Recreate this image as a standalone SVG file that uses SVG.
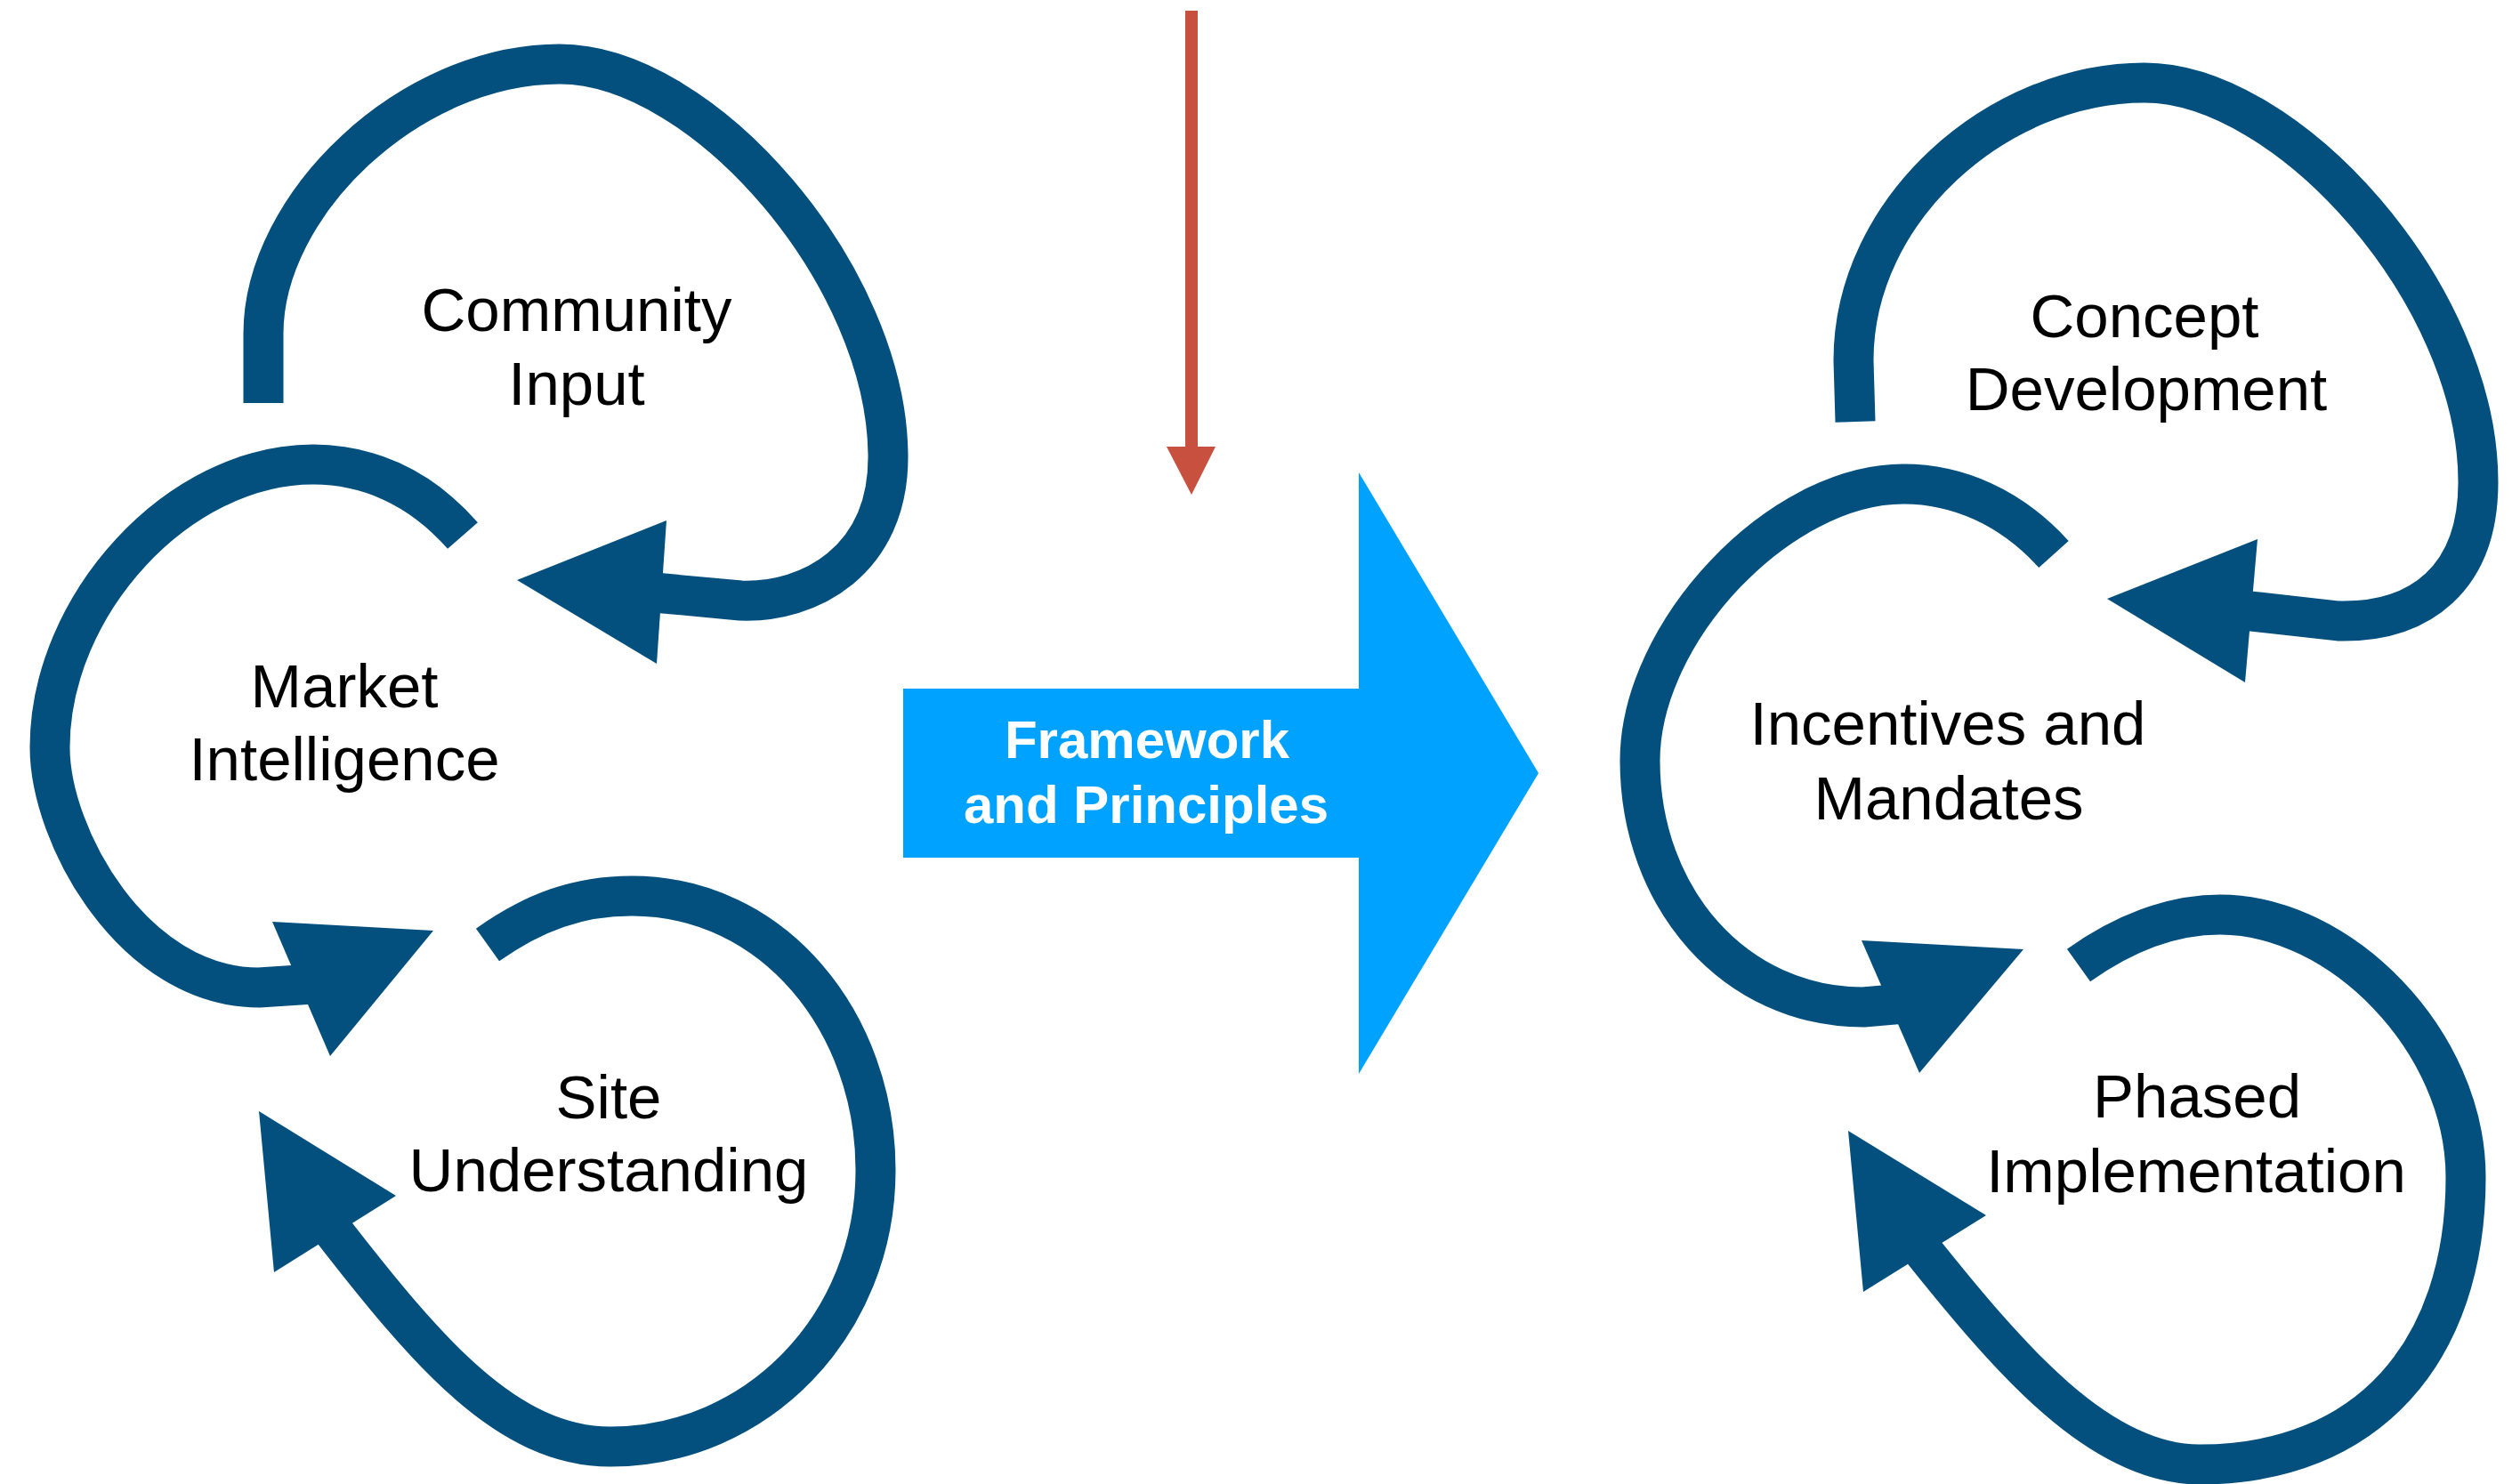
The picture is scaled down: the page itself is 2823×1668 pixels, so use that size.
<svg xmlns="http://www.w3.org/2000/svg" width="2823" height="1668" viewBox="0 0 2823 1668">
  <style>
    .loop { fill: none; stroke: #03507F; stroke-width: 45; stroke-linecap: butt; stroke-linejoin: round; }
    .head { fill: #03507F; }
    .label { font-family: "Liberation Sans", Arial, Helvetica, sans-serif; font-size: 69px; fill: #000; text-anchor: middle; }
    .banner { font-family: "Liberation Sans", Arial, Helvetica, sans-serif; font-size: 60px; font-weight: bold; fill: #fff; text-anchor: middle; }
  </style>
  <rect width="2823" height="1668" fill="#fff"/>

  <g id="connectors">
    <!-- left cycle -->
    <path class="loop" d="M 296,453 L 296,375 C 296,230 460,72 629,72 C 790,72 998,310 998,514 C 998,630 910,678 832,675 L 735,666"/>
    <polygon class="head" points="749,585 738,746 581,652"/>
    <path class="loop" d="M 520,602 C 470,545 410,522 352,522 C 200,522 56,680 56,840 C 56,940 150,1110 291,1110 L 352,1106"/>
    <polygon class="head" points="306,1036 487,1046 371,1187"/>
    <path class="loop" d="M 548,1062 C 600,1025 650,1007 710,1007 C 870,1007 984,1150 984,1315 C 984,1490 850,1626 686,1626 C 570,1626 480,1520 370,1378"/>
    <polygon class="head" points="291,1249 445,1344 308,1430"/>

    <!-- right cycle -->
    <path class="loop" d="M 2085,474 L 2083,405 C 2083,235 2245,93 2410,93 C 2570,93 2785,330 2785,542 C 2785,650 2720,700 2628,698 L 2520,686"/>
    <polygon class="head" points="2537,606 2523,767 2368,673"/>
    <path class="loop" d="M 2308,623 C 2260,570 2200,544 2139,544 C 2000,544 1843,710 1843,855 C 1843,1010 1950,1132 2094,1132 L 2140,1128"/>
    <polygon class="head" points="2092,1057 2274,1067 2157,1206"/>
    <path class="loop" d="M 2336,1085 C 2385,1050 2440,1028 2495,1028 C 2630,1028 2771,1170 2771,1323 C 2771,1520 2660,1646 2472,1646 C 2360,1646 2260,1530 2157,1401"/>
    <polygon class="head" points="2077,1271 2232,1366 2094,1452"/>

    <!-- incoming arrow from above -->
    <rect x="1332" y="12" width="14" height="491" fill="#C8503E"/>
    <polygon points="1311,502 1366,502 1339,556" fill="#C8503E"/>
  </g>

  <g id="community-input">
    <text class="label" x="648" y="372">Community</text>
    <text class="label" x="648" y="455">Input</text>
  </g>
  <g id="market-intelligence">
    <text class="label" x="387" y="795">Market</text>
    <text class="label" x="387" y="877">Intelligence</text>
  </g>
  <g id="site-understanding">
    <text class="label" x="684" y="1257">Site</text>
    <text class="label" x="684" y="1339">Understanding</text>
  </g>

  <g id="framework-and-principles">
    <polygon points="1015,774 1527,774 1527,531 1729,869 1527,1207 1527,964 1015,964" fill="#00A2FF"/>
    <text class="banner" x="1289" y="852">Framework</text>
    <text class="banner" x="1288" y="925">and Principles</text>
  </g>

  <g id="concept-development">
    <text class="label" x="2410" y="379">Concept</text>
    <text class="label" x="2412" y="461">Development</text>
  </g>
  <g id="incentives-and-mandates">
    <text class="label" x="2189" y="837">Incentives and</text>
    <text class="label" x="2190" y="921">Mandates</text>
  </g>
  <g id="phased-implementation">
    <text class="label" x="2469" y="1256">Phased</text>
    <text class="label" x="2468" y="1340">Implementation</text>
  </g>
</svg>
